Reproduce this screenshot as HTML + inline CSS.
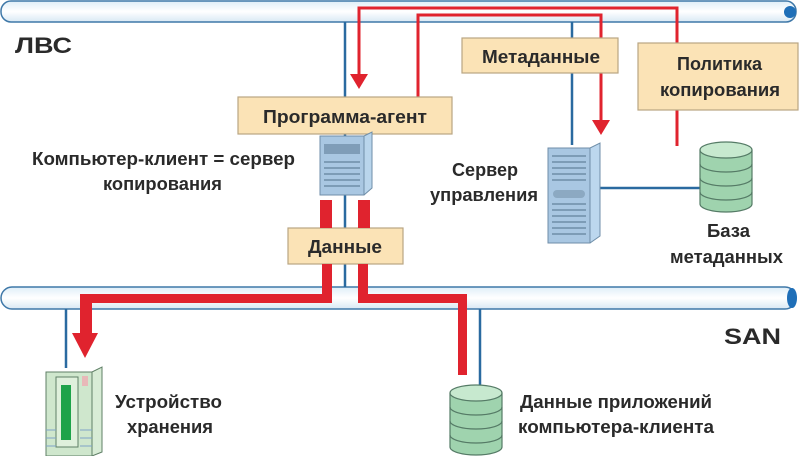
<!DOCTYPE html>
<html><head><meta charset="utf-8"><style>
html,body{margin:0;padding:0;background:#fff;}
svg{display:block;}
text{font-family:"Liberation Sans","DejaVu Sans",sans-serif;font-weight:bold;fill:#2a2a2a;}
</style></head><body>
<svg width="800" height="456" viewBox="0 0 800 456" xmlns="http://www.w3.org/2000/svg">
<defs>
<linearGradient id="pipe" x1="0" y1="0" x2="0" y2="1"><stop offset="0" stop-color="#dfeef8"/><stop offset="0.5" stop-color="#ffffff"/><stop offset="1" stop-color="#d8e8f4"/></linearGradient>
<g id="db">
<path d="M0 8 V62 A26 8 0 0 0 52 62 V8" fill="#9fd3ae" stroke="#557b66" stroke-width="1.2"/>
<ellipse cx="26" cy="8" rx="26" ry="8" fill="#c7e9cf" stroke="#557b66" stroke-width="1.2"/>
<path d="M0 22 A26 8 0 0 0 52 22 M0 36 A26 8 0 0 0 52 36 M0 50 A26 8 0 0 0 52 50" fill="none" stroke="#557b66" stroke-width="1.2"/>
</g>
</defs>
<rect x="1" y="1" width="795" height="21" rx="10" fill="url(#pipe)" stroke="#3f78a8" stroke-width="1.5"/>
<circle cx="790" cy="12" r="6" fill="#1f6fb8"/>
<rect x="1" y="287" width="795" height="22" rx="11" fill="url(#pipe)" stroke="#3f78a8" stroke-width="1.5"/>
<ellipse cx="792" cy="298" rx="5" ry="10" fill="#1f6fb8"/>
<g stroke="#2a6aa0" stroke-width="2.5" fill="none">
<line x1="345" y1="22" x2="345" y2="287"/>
<line x1="572" y1="22" x2="572" y2="145"/>
<line x1="598" y1="188" x2="702" y2="188"/>
<line x1="66" y1="309" x2="66" y2="368"/>
<line x1="480" y1="309" x2="480" y2="386"/>
</g>
<g stroke="#e0232e" stroke-width="3" fill="none">
<polyline points="359,80 359,8 677,8 677,44"/>
<line x1="677" y1="110" x2="677" y2="146"/>
<polyline points="418,97 418,15 601,15 601,122"/>
</g>
<polygon points="350,74 368,74 359,89" fill="#e0232e"/>
<polygon points="592,120 610,120 601,135" fill="#e0232e"/>
<g fill="#fbe3b6" stroke="#b9a583" stroke-width="1.2">
<rect x="238" y="97" width="214" height="37"/>
<rect x="462" y="38" width="156" height="35"/>
<rect x="638" y="43" width="160" height="67"/>
<rect x="288" y="228" width="115" height="36"/>
</g>
<g fill="#e0232e">
<rect x="320" y="200" width="12" height="28"/>
<rect x="358" y="200" width="12" height="28"/>
<rect x="322" y="264" width="10" height="30"/>
<rect x="358" y="264" width="10" height="30"/>
<polygon points="80,294 332,294 332,303 92,303 92,334 80,334"/>
<polygon points="72,333 98,333 85,358"/>
<polygon points="358,294 467,294 467,375 458,375 458,303 358,303"/>
</g>
<g>
<polygon points="320,136 364,136 372,132 372,188 364,195 320,195" fill="#b9d5ec" stroke="#6f8ea8"/>
<rect x="320" y="136" width="44" height="59" fill="#a9c7e2" stroke="#6f8ea8"/>
<rect x="324" y="144" width="36" height="10" fill="#7f9db8"/>
<g stroke="#6f8ea8" stroke-width="1.5"><line x1="324" y1="162" x2="360" y2="162"/><line x1="324" y1="168" x2="360" y2="168"/><line x1="324" y1="174" x2="360" y2="174"/><line x1="324" y1="180" x2="360" y2="180"/><line x1="324" y1="186" x2="360" y2="186"/></g>
</g>
<g>
<polygon points="548,148 590,148 600,143 600,236 590,243 548,243" fill="#bcd7ee" stroke="#6f8ea8"/>
<rect x="548" y="148" width="42" height="95" fill="#a9c7e2" stroke="#6f8ea8"/>
<g stroke="#6f8ea8" stroke-width="1.5">
<line x1="552" y1="156" x2="586" y2="156"/><line x1="552" y1="162" x2="586" y2="162"/><line x1="552" y1="168" x2="586" y2="168"/><line x1="552" y1="174" x2="586" y2="174"/><line x1="552" y1="180" x2="586" y2="180"/>
<line x1="552" y1="204" x2="586" y2="204"/><line x1="552" y1="210" x2="586" y2="210"/><line x1="552" y1="216" x2="586" y2="216"/><line x1="552" y1="222" x2="586" y2="222"/><line x1="552" y1="228" x2="586" y2="228"/><line x1="552" y1="234" x2="586" y2="234"/></g>
<rect x="553" y="190" width="32" height="8" rx="4" fill="#8ca9c2"/>
</g>
<g>
<polygon points="46,372 92,372 102,367 102,452 92,456 46,456" fill="#d8ecd6" stroke="#5f7f66"/>
<rect x="46" y="372" width="46" height="84" fill="#cfe7cd" stroke="#5f7f66"/>
<rect x="56" y="377" width="22" height="70" fill="#dff0dc" stroke="#5f7f66"/>
<rect x="61" y="385" width="10" height="55" fill="#1ea34a"/>
<rect x="82" y="376" width="6" height="10" fill="#e8b8b8"/>
<g stroke="#7fa3c8"><line x1="46" y1="430" x2="56" y2="430"/><line x1="46" y1="438" x2="56" y2="438"/><line x1="46" y1="446" x2="56" y2="446"/><line x1="80" y1="430" x2="92" y2="430"/><line x1="80" y1="438" x2="92" y2="438"/><line x1="80" y1="446" x2="92" y2="446"/></g>
</g>
<use href="#db" x="700" y="142"/>
<use href="#db" x="450" y="385"/>
<g font-size="18">
<text x="15" y="53" font-size="22" textLength="57" lengthAdjust="spacingAndGlyphs">ЛВС</text>
<text x="724" y="344" font-size="22" textLength="57" lengthAdjust="spacingAndGlyphs">SAN</text>
<text x="263" y="123" textLength="164" lengthAdjust="spacingAndGlyphs">Программа-агент</text>
<text x="482" y="63" textLength="118" lengthAdjust="spacingAndGlyphs">Метаданные</text>
<text x="677" y="70" textLength="85" lengthAdjust="spacingAndGlyphs">Политика</text>
<text x="660" y="96" textLength="120" lengthAdjust="spacingAndGlyphs">копирования</text>
<text x="308" y="253" textLength="74" lengthAdjust="spacingAndGlyphs">Данные</text>
<text x="32" y="165" textLength="263" lengthAdjust="spacingAndGlyphs">Компьютер-клиент = сервер</text>
<text x="103" y="190" textLength="119" lengthAdjust="spacingAndGlyphs">копирования</text>
<text x="452" y="176" textLength="66" lengthAdjust="spacingAndGlyphs">Сервер</text>
<text x="430" y="201" textLength="108" lengthAdjust="spacingAndGlyphs">управления</text>
<text x="707" y="237" textLength="43" lengthAdjust="spacingAndGlyphs">База</text>
<text x="670" y="263" textLength="113" lengthAdjust="spacingAndGlyphs">метаданных</text>
<text x="115" y="408" textLength="107" lengthAdjust="spacingAndGlyphs">Устройство</text>
<text x="127" y="433" textLength="86" lengthAdjust="spacingAndGlyphs">хранения</text>
<text x="520" y="408" textLength="192" lengthAdjust="spacingAndGlyphs">Данные приложений</text>
<text x="518" y="433" textLength="196" lengthAdjust="spacingAndGlyphs">компьютера-клиента</text>
</g>
</svg>
</body></html>
